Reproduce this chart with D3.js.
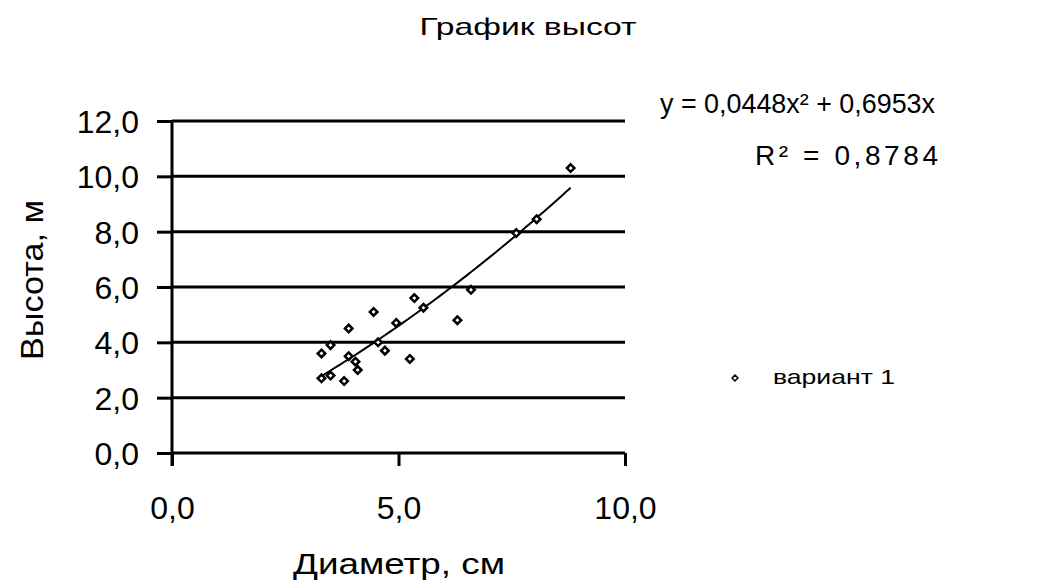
<!DOCTYPE html>
<html>
<head>
<meta charset="utf-8">
<script src="https://cdn.jsdelivr.net/npm/d3@7"></script>
<style>
  body { margin: 0; background: #fff; }
  text { font-family: "Liberation Sans", Arial, sans-serif; fill: #000; }
</style>
</head>
<body>
<svg id="chart" width="1037" height="588"></svg>
<script>
// diameter (cm) and height (m) of the sample trees
const diam   = [3.3, 3.5, 3.8, 3.3, 3.5, 3.9, 4.05, 4.1, 3.9, 4.45, 4.55, 4.7, 4.95, 5.25, 5.35, 5.55, 6.3, 6.6, 7.6, 8.05, 8.8]
const height = [2.7, 2.8, 2.6, 3.6, 3.9, 3.5, 3.3, 3.0, 4.5, 5.1, 4.0, 3.7, 4.7, 3.4, 5.6, 5.25, 4.8, 5.9, 7.95, 8.45, 10.3]
const xTicks = [0, 5, 10]
const yTicks = [0, 2, 4, 6, 8, 10, 12]
// trendline coefficients y = a x^2 + b x
const coefA = 0.0448
const coefB = 0.6953

const fmt = v => v.toFixed(1).replace(".", ",")

const svg = d3.select("#chart")

const x = d3.scaleLinear().domain([0, 10]).range([172, 625])
const y = d3.scaleLinear().domain([0, 12]).range([453, 121])

// horizontal grid
svg.append("g")
  .selectAll("line")
  .data(yTicks.filter(t => t > 0))
  .join("line")
  .attr("x1", x(0)).attr("x2", x(10))
  .attr("y1", d => y(d)).attr("y2", d => y(d))
  .attr("stroke", "#000").attr("stroke-width", 3)

// y axis
const yAxis = d3.axisLeft(y).tickValues(yTicks).tickSize(15).tickSizeOuter(0).tickPadding(18).tickFormat(fmt)
const gy = svg.append("g").attr("transform", `translate(${x(0)},0)`).call(yAxis)
gy.select(".domain").remove()
gy.selectAll(".tick line").attr("stroke-width", 3)
gy.selectAll(".tick text").attr("font-size", 32).attr("dy", "0.36em")
  .style("font-family", "Liberation Sans, Arial, sans-serif")
gy.append("line")
  .attr("x1", 0).attr("x2", 0)
  .attr("y1", y(12)).attr("y2", y(0) + 13)
  .attr("stroke", "#000").attr("stroke-width", 3)

// x axis
const xAxis = d3.axisBottom(x).tickValues(xTicks).tickSize(13).tickSizeOuter(0).tickPadding(30).tickFormat(fmt)
const gx = svg.append("g").attr("transform", `translate(0,${y(0)})`).call(xAxis)
gx.select(".domain").attr("stroke-width", 3).attr("d", `M${x(0)},0H${x(10)}`)
gx.selectAll(".tick line").attr("stroke-width", 3)
gx.selectAll(".tick text").attr("font-size", 32)
  .style("font-family", "Liberation Sans, Arial, sans-serif")

// trendline
const xs = d3.range(d3.min(diam), d3.max(diam) + 0.001, 0.1)
svg.append("path")
  .datum(xs)
  .attr("fill", "none").attr("stroke", "#000").attr("stroke-width", 2)
  .attr("d", d3.line().x(d => x(d)).y(d => y(coefA * d * d + coefB * d)))

// points
const diamond = d3.symbol().type(d3.symbolDiamond2).size(36)
svg.append("g")
  .selectAll("path")
  .data(diam.map((d, i) => [d, height[i]]))
  .join("path")
  .attr("transform", d => `translate(${x(d[0])},${y(d[1])})`)
  .attr("d", diamond)
  .attr("fill", "#fff").attr("stroke", "#000").attr("stroke-width", 2.5)

// titles
svg.append("text").attr("x", 528).attr("y", 35).attr("text-anchor", "middle")
  .attr("font-size", 24).attr("textLength", 217).attr("lengthAdjust", "spacingAndGlyphs")
  .text("График высот")

svg.append("text").attr("x", 399).attr("y", 574).attr("text-anchor", "middle")
  .attr("font-size", 30).attr("textLength", 212).attr("lengthAdjust", "spacingAndGlyphs")
  .text("Диаметр, см")

svg.append("text").attr("transform", "translate(43,280) rotate(-90)").attr("text-anchor", "middle")
  .attr("font-size", 31).attr("textLength", 160).attr("lengthAdjust", "spacingAndGlyphs")
  .text("Высота, м")

// equation
svg.append("text").attr("x", 660).attr("y", 113)
  .attr("font-size", 28).attr("textLength", 275).attr("lengthAdjust", "spacingAndGlyphs")
  .text(`y = ${fmtC(coefA, 4)}x² + ${fmtC(coefB, 4)}x`)

svg.append("text").attr("x", 755).attr("y", 165)
  .attr("font-size", 28).attr("textLength", 183).attr("lengthAdjust", "spacing")
  .text("R² = 0,8784")

function fmtC(v, n) { return v.toFixed(n).replace(".", ",") }

// legend
svg.append("path").attr("transform", "translate(735,378)")
  .attr("d", d3.symbol().type(d3.symbolDiamond2).size(22))
  .attr("fill", "#fff").attr("stroke", "#000").attr("stroke-width", 1.5)
svg.append("text").attr("x", 773).attr("y", 384)
  .attr("font-size", 21).attr("textLength", 122).attr("lengthAdjust", "spacingAndGlyphs")
  .text("вариант 1")
</script>
</body>
</html>
